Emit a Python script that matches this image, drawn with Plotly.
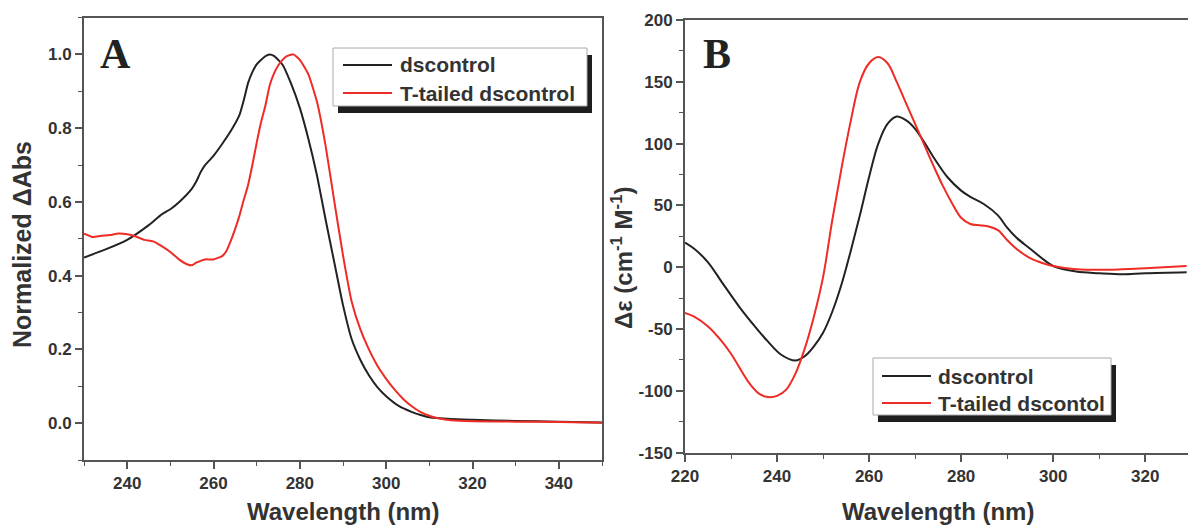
import plotly.graph_objects as go

# ---------------- data ----------------
# Panel A: normalized absorbance
wl_a_ds = [230, 235, 240, 245, 248, 250, 252, 255, 256, 257, 258, 259, 260, 262, 264, 266, 267, 268,
           269, 270, 272, 273, 274, 276, 278, 280, 282, 284, 286, 288, 290, 292, 294, 296, 298, 300,
           303, 306, 308, 310, 315, 320, 330, 340, 350]
abs_ds = [0.449, 0.471, 0.497, 0.537, 0.566, 0.580, 0.599, 0.636, 0.655, 0.680, 0.699, 0.712, 0.725,
          0.757, 0.792, 0.835, 0.875, 0.922, 0.952, 0.973, 0.995, 1.0, 0.996, 0.972, 0.92, 0.855, 0.77,
          0.67, 0.55, 0.435, 0.32, 0.228, 0.172, 0.13, 0.097, 0.073, 0.046, 0.030, 0.022, 0.016, 0.011,
          0.009, 0.006, 0.004, 0.002]

wl_a_tt = [230, 232, 234, 236, 238, 240, 242, 244, 246, 248, 250, 252, 254, 255, 256, 258, 260, 262,
           263, 264, 265, 266, 267, 268, 269, 270, 271, 272, 273, 274, 275, 276, 277, 278.5, 280, 282,
           284, 286, 288, 290, 292, 294, 296, 298, 300, 302, 304, 306, 308, 310, 312, 315, 320, 330, 340, 350]
abs_tt = [0.514, 0.505, 0.508, 0.51, 0.514, 0.512, 0.506, 0.497, 0.493, 0.48, 0.464, 0.444, 0.43, 0.428,
          0.435, 0.444, 0.444, 0.453, 0.467, 0.494, 0.526, 0.562, 0.605, 0.645, 0.70, 0.76, 0.815, 0.86,
          0.915, 0.948, 0.97, 0.985, 0.995, 1.0, 0.985, 0.945, 0.87, 0.75, 0.60, 0.455, 0.33, 0.255,
          0.20, 0.155, 0.12, 0.09, 0.065, 0.045, 0.030, 0.020, 0.013, 0.008, 0.005, 0.004, 0.003, 0.001]

# Panel B: CD spectra
wl_b_ds = [220, 222, 225, 228, 232, 235, 238, 241, 244, 246, 248, 250, 252, 254, 256, 258, 260, 262,
           264, 266, 268, 270, 272, 274, 277, 280, 282, 285, 288, 290, 292, 295, 298, 300, 305, 310,
           315, 320, 329]
cd_ds = [20, 15, 4, -12, -33, -47, -60, -71, -75.5, -72, -64, -53, -36, -14, 13, 42, 73, 100, 116, 122,
         119, 112, 101, 89, 73, 62, 57, 51, 42, 32, 24, 15, 6, 1, -3.5, -4.8, -5.6, -4.8, -4]

wl_b_tt = [220, 222, 225, 228, 230, 234, 236, 238, 240, 242, 244, 246, 248, 250, 252, 254, 256, 258,
           260, 262, 264, 266, 268, 270, 272, 274, 276, 278, 280, 282, 284, 286, 288, 290, 292, 295,
           298, 300, 305, 310, 315, 320, 329]
cd_tt = [-37, -40, -48, -60, -70, -94, -102, -105, -104, -99, -86, -66, -40, -8, 38, 80, 118, 150,
         165, 170, 165, 150, 133, 116, 99, 82, 66, 52, 40, 35, 34, 33, 30, 22, 15, 7.4, 3, 1, -1.6,
         -2.1, -1.6, -0.8, 1]

name_ds = "dscontrol"
name_tt_a = "T-tailed dscontrol"
name_tt_b = "T-tailed dscontol"

xticks_a = [240, 260, 280, 300, 320, 340]
yticks_a = [0.0, 0.2, 0.4, 0.6, 0.8, 1.0]
yticklabels_a = ["0.0", "0.2", "0.4", "0.6", "0.8", "1.0"]
xticks_b = [220, 240, 260, 280, 300, 320]
yticks_b = [-150, -100, -50, 0, 50, 100, 150, 200]
yticklabels_b = ["-150", "-100", "-50", "0", "50", "100", "150", "200"]

# ---------------- styles ----------------
W, H = 1188, 527
BLACK = "#222222"
RED = "#ee2b24"
AXIS = "#555555"
TXT = "#333333"
FONT = "Liberation Sans"


def px(x):
    return x / W


def py(y):
    return 1 - y / H


fig = go.Figure()
fig.add_trace(go.Scatter(x=wl_a_ds, y=abs_ds, mode="lines", name=name_ds,
                         line=dict(color=BLACK, width=2, shape="spline", smoothing=0.5),
                         xaxis="x", yaxis="y", showlegend=False))
fig.add_trace(go.Scatter(x=wl_a_tt, y=abs_tt, mode="lines", name=name_tt_a,
                         line=dict(color=RED, width=2, shape="spline", smoothing=0.5),
                         xaxis="x", yaxis="y", showlegend=False))
fig.add_trace(go.Scatter(x=wl_b_ds, y=cd_ds, mode="lines", name=name_ds,
                         line=dict(color=BLACK, width=2, shape="spline", smoothing=1.0),
                         xaxis="x2", yaxis="y2", showlegend=False))
fig.add_trace(go.Scatter(x=wl_b_tt, y=cd_tt, mode="lines", name=name_tt_b,
                         line=dict(color=RED, width=2, shape="spline", smoothing=1.0),
                         xaxis="x2", yaxis="y2", showlegend=False))

tickfont = dict(family=FONT, size=17, color=TXT, weight="bold")
common = dict(showgrid=False, zeroline=False, showline=True, linecolor=AXIS, linewidth=2,
              mirror=True, ticks="outside", ticklen=7, tickwidth=1.5, tickcolor=AXIS,
              tickfont=tickfont, automargin=False,
              minor=dict(ticks="outside", ticklen=4, tickwidth=1.2, tickcolor=AXIS))

fig.update_layout(
    width=W, height=H, margin=dict(l=0, r=0, t=0, b=0),
    paper_bgcolor="white", plot_bgcolor="white",
    xaxis=dict(domain=[px(84), px(602)], range=[230, 350], anchor="y",
               tickvals=xticks_a, **common),
    yaxis=dict(domain=[py(460), py(17.5)], range=[-0.1, 1.1], anchor="x",
               tickvals=yticks_a, ticktext=yticklabels_a, **common),
    xaxis2=dict(domain=[px(685), 1.0], range=[220, 329.3], anchor="y2",
                tickvals=xticks_b, **common),
    yaxis2=dict(domain=[py(452.7), py(20)], range=[-150, 200], anchor="x2",
                tickvals=yticks_b, ticktext=yticklabels_b, **common),
)
fig.update_xaxes(minor_dtick=10)
fig.update_yaxes(minor_dtick=0.1, selector=dict(anchor="x"))
fig.update_yaxes(minor_dtick=25, selector=dict(anchor="x2"))

titlefont = dict(family=FONT, size=24, color=TXT, weight="bold")
ann = []
ann.append(dict(text="Wavelength (nm)", x=px(343), y=py(511), xref="paper", yref="paper",
                showarrow=False, font=titlefont, xanchor="center", yanchor="middle"))
ann.append(dict(text="Wavelength (nm)", x=px(938), y=py(511), xref="paper", yref="paper",
                showarrow=False, font=titlefont, xanchor="center", yanchor="middle"))
ann.append(dict(text="Normalized ΔAbs", x=px(22), y=py(245), xref="paper", yref="paper",
                showarrow=False, font=dict(family=FONT, size=25, color=TXT, weight="bold"),
                textangle=-90, xanchor="center", yanchor="middle"))
ann.append(dict(text="Δε (cm<sup>-1</sup> M<sup>-1</sup>)", x=px(622), y=py(258),
                xref="paper", yref="paper", showarrow=False,
                font=dict(family=FONT, size=24, color=TXT, weight="bold"), textangle=-90,
                xanchor="center", yanchor="middle"))
serif = dict(family="Liberation Serif", size=42, color="#222222", weight="bold")
ann.append(dict(text="A", x=px(98), y=py(54), xref="paper", yref="paper", showarrow=False,
                font=serif, xanchor="left", yanchor="middle"))
ann.append(dict(text="B", x=px(701), y=py(54), xref="paper", yref="paper", showarrow=False,
                font=serif, xanchor="left", yanchor="middle"))

shapes = []


def legend_box(x0, y0, x1, y1, dx, dy, line_x0, line_x1, rows, text_x, labels, colors):
    shapes.append(dict(type="rect", xref="paper", yref="paper",
                       x0=px(x0 + dx), x1=px(x1 + dx), y0=py(y0 + dy), y1=py(y1 + dy),
                       fillcolor="#1e1e1e", line=dict(width=0)))
    shapes.append(dict(type="rect", xref="paper", yref="paper",
                       x0=px(x0), x1=px(x1), y0=py(y0), y1=py(y1),
                       fillcolor="white", line=dict(color="#aaaaaa", width=1)))
    for r, lab, c in zip(rows, labels, colors):
        shapes.append(dict(type="line", xref="paper", yref="paper",
                           x0=px(line_x0), x1=px(line_x1), y0=py(r), y1=py(r),
                           line=dict(color=c, width=2)))
        ann.append(dict(text=lab, x=px(text_x), y=py(r), xref="paper", yref="paper",
                        showarrow=False, xanchor="left", yanchor="middle",
                        font=dict(family=FONT, size=21, color=TXT, weight="bold")))


legend_box(333, 48, 587, 106, 5, 7, 343, 392, [65, 93], 398,
           [name_ds, name_tt_a], [BLACK, RED])
legend_box(873, 358, 1111, 415, 5, 7, 882, 931, [376, 403], 936,
           [name_ds, name_tt_b], [BLACK, RED])

fig.update_layout(annotations=ann, shapes=shapes)
fig.write_html("out.html")
